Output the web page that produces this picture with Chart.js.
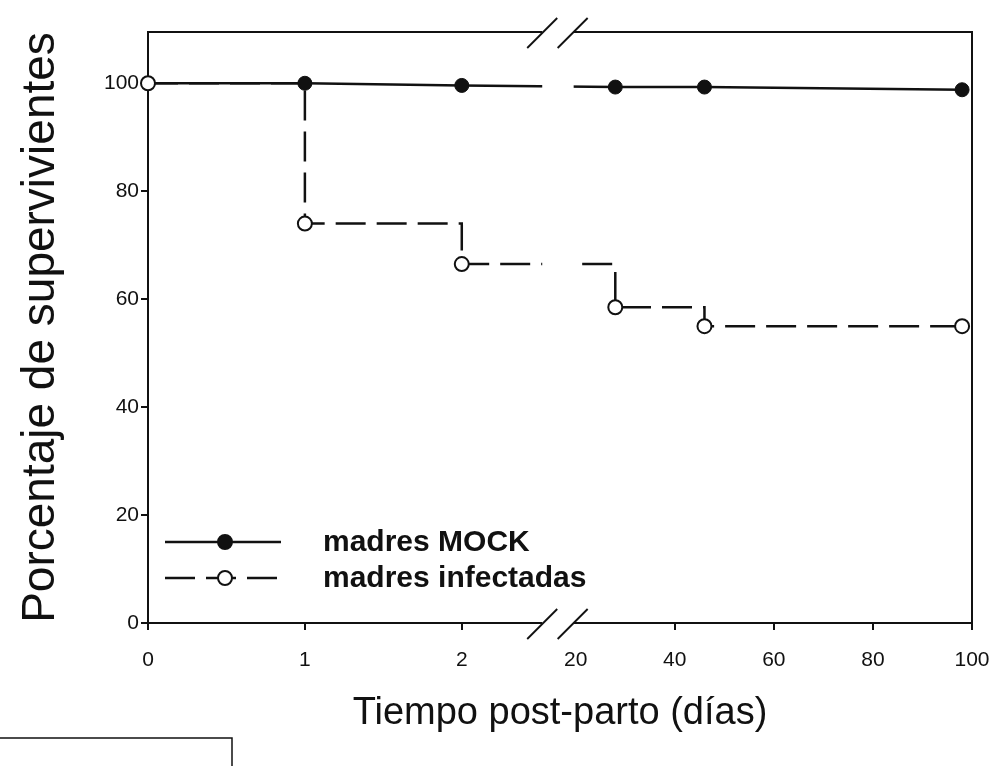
<!DOCTYPE html>
<html>
<head>
<meta charset="utf-8">
<script src="https://cdn.jsdelivr.net/npm/chart.js@4.4.1/dist/chart.umd.min.js"></script>
<style>
  html, body { margin: 0; padding: 0; background: #fff; }
  canvas { display: block; }
</style>
</head>
<body>
<canvas id="myChart" width="998" height="766"></canvas>
<script>
// survival (%) per day after birth
var diasMock = [0, 1, 2, 28, 46, 98];
var supervivenciaMock = [100, 100, 99.6, 99.3, 99.3, 98.8];
var diasInfectadas = [0, 1, 2, 28, 46, 98];
var supervivenciaInfectadas = [100, 74, 66.5, 58.5, 55, 55];
var xTicks = [0, 1, 2, 20, 40, 60, 80, 100];
var yTicks = [0, 20, 40, 60, 80, 100];

// x axis is broken between these two days
var corteInicio = 2.5, corteFin = 20;
// share of the axis width: first part (0-2.5), the gap, the rest is 20-100
var tramo1 = 0.476, hueco = 0.043;

var negro = "#111";
var fuente = "'Liberation Sans', Arial, sans-serif";

function puntos(xs, ys) {
    return xs.map(function (x, i) { return { x: x, y: ys[i] }; });
}

// linear scale with a piecewise mapping, so the break lives in the scale itself
class BrokenScale extends Chart.LinearScale {
    aUnidad(v) {
        if (v <= corteInicio) return v / corteInicio * tramo1;
        if (v >= corteFin) return tramo1 + hueco + (v - corteFin) / (this.max - corteFin) * (1 - tramo1 - hueco);
        return tramo1 + (v - corteInicio) / (corteFin - corteInicio) * hueco;
    }
    getPixelForValue(v) {
        return this.getPixelForDecimal(this.aUnidad(v));
    }
    getValueForPixel(p) {
        var d = this.getDecimalForPixel(p);
        if (d <= tramo1) return d / tramo1 * corteInicio;
        if (d >= tramo1 + hueco) return corteFin + (d - tramo1 - hueco) / (1 - tramo1 - hueco) * (this.max - corteFin);
        return corteInicio + (d - tramo1) / hueco * (corteFin - corteInicio);
    }
}
BrokenScale.id = 'broken';
BrokenScale.defaults = Chart.LinearScale.defaults;
Chart.register(BrokenScale);

// frame, axis-break marks and the legend inside the plot
var marco = {
    id: 'marco',
    afterDraw: function (chart) {
        var c = chart.ctx, a = chart.chartArea, sx = chart.scales.x;
        var dsInf = chart.data.datasets[0], dsMock = chart.data.datasets[1];
        c.save();
        c.strokeStyle = negro;
        c.lineWidth = 2;
        c.beginPath();
        c.moveTo(a.left, a.top);
        c.lineTo(a.right, a.top);
        c.lineTo(a.right, a.bottom);
        c.stroke();

        var x1 = sx.getPixelForValue(corteInicio), x2 = sx.getPixelForValue(corteFin);
        c.fillStyle = '#fff';
        c.fillRect(x1 + 2, a.top - 3, x2 - x1 - 4, a.bottom - a.top + 6);
        c.lineWidth = 1.8;
        [a.top, a.bottom].forEach(function (y) {
            [x1 + 3, x2 - 2].forEach(function (x) {
                c.beginPath();
                c.moveTo(x - 16, y + 16);
                c.lineTo(x + 14, y - 14);
                c.stroke();
            });
        });

        // legend
        var lx = a.left + 17, tx = a.left + 175;
        var filas = [
            { ds: dsMock, y: a.bottom - 81 },
            { ds: dsInf, y: a.bottom - 45 }
        ];
        filas.forEach(function (f) {
            c.strokeStyle = f.ds.borderColor;
            c.lineWidth = f.ds.borderWidth;
            c.setLineDash(f.ds.borderDash || []);
            c.beginPath();
            c.moveTo(lx, f.y);
            c.lineTo(lx + 116, f.y);
            c.stroke();
            c.setLineDash([]);
            c.beginPath();
            c.arc(lx + 60, f.y, 7, 0, Math.PI * 2);
            c.fillStyle = f.ds.pointBackgroundColor;
            c.fill();
            c.lineWidth = 2;
            c.stroke();
            c.fillStyle = negro;
            c.font = "bold 30px " + fuente;
            c.textBaseline = 'middle';
            c.fillText(f.ds.label, tx, f.y + 1);
        });

        // box edge left over in the lower-left corner of the scan
        c.strokeStyle = negro;
        c.lineWidth = 1.5;
        c.beginPath();
        c.moveTo(0, 738);
        c.lineTo(232, 738);
        c.lineTo(232, 766);
        c.stroke();
        c.restore();
    }
};

var ctx = document.getElementById("myChart").getContext("2d");

var data = {
    datasets: [
        {
            label: "madres infectadas",
            data: puntos(diasInfectadas, supervivenciaInfectadas),
            stepped: 'before',
            clip: 12,
            borderColor: negro,
            borderWidth: 2.5,
            borderDash: [30, 11],
            pointRadius: 7,
            pointBackgroundColor: "#fff",
            pointBorderColor: negro,
            pointBorderWidth: 2,
            fill: false
        },
        {
            label: "madres MOCK",
            data: puntos(diasMock, supervivenciaMock),
            clip: 12,
            borderColor: negro,
            borderWidth: 2.5,
            // hidden under the open circle at day 0
            pointRadius: function (c) { return c.dataIndex === 0 ? 0 : 7; },
            pointBackgroundColor: negro,
            pointBorderColor: negro,
            pointBorderWidth: 1,
            fill: false
        }
    ]
};

var myChart = new Chart(ctx, {
    type: 'line',
    data: data,
    options: {
        responsive: false,
        animation: false,
        layout: { padding: { top: 32, right: 26, left: 0, bottom: 0 } },
        plugins: {
            legend: { display: false },
            tooltip: { enabled: false }
        },
        scales: {
            x: {
                type: 'broken',
                min: 0,
                max: 100,
                afterBuildTicks: function (s) { s.ticks = xTicks.map(function (v) { return { value: v }; }); },
                afterFit: function (s) { s.height = 143; s.paddingLeft = 0; s.paddingRight = 0; },
                grid: {
                    drawOnChartArea: false,
                    tickLength: 7,
                    lineWidth: 2,
                    color: function (c) { return c.tick && c.tick.value === corteFin ? 'rgba(0,0,0,0)' : negro; }
                },
                border: { color: negro, width: 2 },
                ticks: {
                    autoSkip: false,
                    maxRotation: 0,
                    padding: 18,
                    color: negro,
                    font: { family: fuente, size: 21 },
                    callback: function (v) { return String(v); }
                },
                title: {
                    display: true,
                    text: "Tiempo post-parto (días)",
                    color: negro,
                    font: { family: fuente, size: 38 },
                    padding: { top: 0, bottom: 30 }
                }
            },
            y: {
                min: 0,
                max: 109.5,
                afterBuildTicks: function (s) { s.ticks = yTicks.map(function (v) { return { value: v }; }); },
                afterFit: function (s) { s.width = 148; s.paddingTop = 0; s.paddingBottom = 0; },
                grid: {
                    drawOnChartArea: false,
                    tickLength: 7,
                    lineWidth: 2,
                    color: negro
                },
                border: { color: negro, width: 2 },
                ticks: {
                    padding: 2,
                    color: negro,
                    font: { family: fuente, size: 21 },
                    callback: function (v) { return String(v); }
                },
                title: {
                    display: true,
                    text: "Porcentaje de supervivientes",
                    color: negro,
                    font: { family: fuente, size: 46 },
                    padding: { top: 14, bottom: 0 }
                }
            }
        }
    },
    plugins: [marco]
});
</script>
</body>
</html>
